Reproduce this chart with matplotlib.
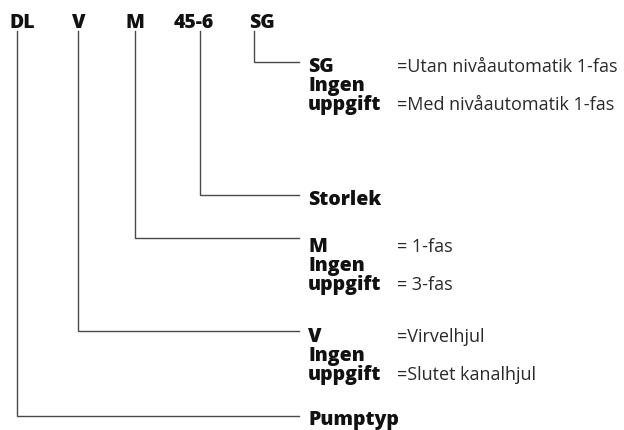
import matplotlib.pyplot as plt

# type code parts (top row)
codes = ["DL", "V", "M", "45-6", "SG"]

# explanation blocks, same order as codes: bold key lines and descriptions
keys = [
    ["Pumptyp"],
    ["V", "Ingen", "uppgift"],
    ["M", "Ingen", "uppgift"],
    ["Storlek"],
    ["SG", "Ingen", "uppgift"],
]
descs = [
    [],
    ["=Virvelhjul", "=Slutet kanalhjul"],
    ["= 1-fas", "= 3-fas"],
    [],
    ["=Utan nivåautomatik 1-fas", "=Med nivåautomatik 1-fas"],
]

# layout (pixels)
W, H = 624, 431
code_label_x = [22.5, 79, 135, 194, 262]
code_x = [17, 78, 134.5, 200, 254]
leader_y = [417, 332, 239, 196, 63]
key_base = [425, 342, 252, 205, 72]

fig = plt.figure(figsize=(W / 100, H / 100), dpi=100)
ax = fig.add_axes([0, 0, 1, 1])
ax.set_xlim(0, W)
ax.set_ylim(H, 0)
ax.axis("off")

line_col = "#4a4a4a"
bold = dict(fontfamily="Open Sans", fontweight="heavy", fontsize=14, color="#111111")
reg = dict(fontfamily="Open Sans", fontsize=13, color="#2a2a2a")

top_base = 28
line_top = 32
end_x = 299
key_x = 308
desc_x = 397
step = 19

for code, lx, cx, ly in zip(codes, code_label_x, code_x, leader_y):
    ax.text(lx, top_base, code, ha="center", va="baseline", **bold)
    ax.plot([cx, cx, end_x], [line_top, ly, ly], color=line_col, lw=1.0,
            solid_joinstyle="miter")

for k, d, yb in zip(keys, descs, key_base):
    for i, s in enumerate(k):
        ax.text(key_x, yb + i * step, s, ha="left", va="baseline", **bold)
    if d:
        ax.text(desc_x, yb, d[0], ha="left", va="baseline", **reg)
        ax.text(desc_x, yb + 2 * step, d[1], ha="left", va="baseline", **reg)

fig.savefig("out.png", dpi=100)
